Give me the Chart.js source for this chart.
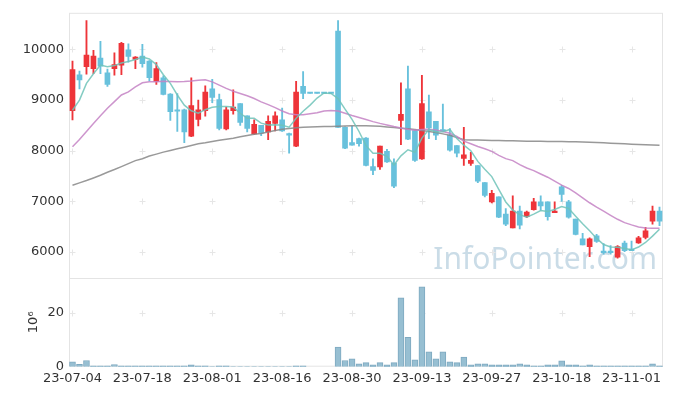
<!DOCTYPE html>
<html>
<head>
<meta charset="utf-8">
<script src="https://cdn.jsdelivr.net/npm/chart.js@4.4.0/dist/chart.umd.min.js"></script>
<style>
  html, body { margin: 0; padding: 0; background: #fff; }
  canvas { display: block; }
</style>
</head>
<body>
<canvas id="chart" width="673" height="396"></canvas>
<script>
// trading days (YY-MM-DD)
const dates = [
  '23-07-04', '23-07-05', '23-07-06', '23-07-07', '23-07-10', '23-07-11', '23-07-12', '23-07-13', '23-07-14', '23-07-17',
  '23-07-18', '23-07-19', '23-07-20', '23-07-21', '23-07-24', '23-07-25', '23-07-26', '23-07-27', '23-07-28', '23-07-31',
  '23-08-01', '23-08-02', '23-08-03', '23-08-04', '23-08-07', '23-08-08', '23-08-09', '23-08-10', '23-08-11', '23-08-14',
  '23-08-16', '23-08-17', '23-08-18', '23-08-21', '23-08-22', '23-08-23', '23-08-24', '23-08-25', '23-08-28', '23-08-29',
  '23-08-30', '23-08-31', '23-09-01', '23-09-04', '23-09-05', '23-09-06', '23-09-07', '23-09-08', '23-09-11', '23-09-12',
  '23-09-13', '23-09-14', '23-09-15', '23-09-18', '23-09-19', '23-09-20', '23-09-21', '23-09-22', '23-09-25', '23-09-26',
  '23-09-27', '23-10-04', '23-10-05', '23-10-06', '23-10-10', '23-10-11', '23-10-12', '23-10-13', '23-10-16', '23-10-17',
  '23-10-18', '23-10-19', '23-10-20', '23-10-23', '23-10-24', '23-10-25', '23-10-26', '23-10-27', '23-10-30', '23-10-31',
  '23-11-01', '23-11-02', '23-11-03', '23-11-06', '23-11-07'
];

const opens = [
  8790, 9500, 9660, 9620, 9830, 9540, 9620, 9690, 9990, 9800,
  9870, 9770, 9370, 9440, 9120, 8790, 8810, 8290, 8620, 8790,
  9220, 9010, 8430, 8790, 8930, 8690, 8330, 8500, 8370, 8540,
  8610, 8340, 8090, 9270, 9130, 9130, 9130, 9130, 10360, 8460,
  8160, 8240, 8250, 7690, 7680, 7990, 7750, 8600, 9220, 8400,
  7840, 8770, 8580, 8400, 8310, 8100, 7850, 7750, 7710, 7370,
  6990, 7090, 6750, 6480, 6810, 6700, 6840, 6990, 6990, 6780,
  7290, 6990, 6650, 6260, 6110, 6320, 6010, 6010, 5900, 6180,
  6050, 6180, 6290, 6610, 6810
];
const highs = [
  9770, 9570, 10570, 9980, 10160, 9610, 9930, 10140, 10110, 9860,
  10100, 9780, 9740, 9480, 9130, 9130, 8820, 9440, 9000, 9280,
  9410, 9120, 8860, 9200, 8930, 8690, 8610, 8500, 8690, 8770,
  8840, 8350, 9370, 9560, 9130, 9130, 9130, 9130, 10570, 8470,
  8480, 8250, 8260, 7840, 8090, 8030, 7840, 9340, 9670, 8400,
  9490, 9100, 8580, 8920, 8440, 8100, 8460, 7970, 7710, 7370,
  7220, 7090, 6860, 7110, 6910, 6810, 7060, 7110, 6990, 6990,
  7320, 7020, 6650, 6370, 6280, 6350, 6170, 6130, 6130, 6220,
  6220, 6310, 6490, 6910, 6890
];
const lows = [
  8610, 9220, 9510, 9520, 9520, 9270, 9490, 9500, 9750, 9620,
  9650, 9380, 9310, 9100, 8600, 8380, 8160, 8280, 8490, 8680,
  8950, 8410, 8410, 8720, 8500, 8370, 8320, 8300, 8220, 8390,
  8380, 7950, 8080, 9030, 9130, 9130, 9130, 9130, 8460, 8040,
  8110, 8090, 7700, 7530, 7630, 7770, 7270, 8120, 8220, 7790,
  7830, 8240, 8220, 8380, 7990, 7880, 7710, 7710, 7370, 7090,
  6970, 6680, 6520, 6480, 6460, 6680, 6830, 6830, 6630, 6780,
  7000, 6670, 6340, 6140, 5910, 6190, 5960, 5960, 5880, 6010,
  6030, 6170, 6260, 6550, 6520
];
const closes = [
  9600, 9400, 9890, 9870, 9670, 9310, 9700, 10120, 9860, 9850,
  9720, 9440, 9620, 9110, 8770, 8780, 8370, 8890, 8810, 9160,
  9050, 8440, 8810, 8860, 8560, 8440, 8520, 8350, 8580, 8690,
  8390, 8310, 9160, 9130, 9130, 9130, 9130, 9130, 8460, 8050,
  8110, 8140, 7710, 7610, 8090, 7780, 7300, 8720, 8230, 7810,
  8930, 8450, 8310, 8390, 8010, 7950, 7920, 7810, 7400, 7120,
  7160, 6690, 6550, 6810, 6530, 6790, 6990, 6910, 6700, 6800,
  7140, 6690, 6350, 6140, 6260, 6210, 5990, 5990, 6110, 6030,
  6030, 6280, 6420, 6810, 6610
];

// volume, millions of shares
const volumes = [
  1.8, 0.9, 2.3, 0.3, 0.3, 0.3, 0.8, 0.3, 0.3, 0.3,
  0.3, 0.3, 0.3, 0.3, 0.3, 0.3, 0.3, 0.7, 0.3, 0.3,
  0.05, 0.3, 0.3, 0.05, 0.05, 0.05, 0.05, 0.05, 0.05, 0.05,
  0.05, 0.05, 0.3, 0.3, 0, 0, 0, 0, 7.3, 2.3,
  2.9, 1.1, 1.5, 0.7, 1.5, 0.7, 1.5, 25.5, 10.9, 2.5,
  29.6, 5.5, 2.9, 5.5, 1.8, 1.5, 3.6, 0.7, 1.1, 1.1,
  0.7, 0.7, 0.7, 0.7, 1.1, 0.7, 0.3, 0.3, 0.7, 0.7,
  2.2, 0.7, 0.7, 0.3, 0.7, 0.3, 0.3, 0.3, 0.3, 0.3,
  0.3, 0.3, 0.3, 1.1, 0.3
];

// moving averages
const ma5 = [
  8800, 9000, 9330, 9520, 9690, 9660, 9680, 9730, 9760, 9800,
  9850, 9810, 9700, 9500, 9330, 9100, 8900, 8790, 8740, 8810,
  8860, 8875, 8875, 8865, 8740, 8640, 8640, 8545, 8510, 8515,
  8505, 8465, 8640, 8780, 8900, 9040, 9140, 9130, 9030, 8820,
  8620, 8380, 8100, 7950, 7950, 7890, 7720, 7900, 8020, 7970,
  8250, 8420, 8370, 8375, 8420, 8240, 8110, 8000, 7790, 7635,
  7490, 7236, 6990, 6830, 6740, 6690, 6750, 6820, 6800, 6840,
  6900, 6860, 6710, 6560, 6420, 6270, 6150, 6100, 6095, 6070,
  6045, 6100, 6190, 6315, 6450
];
const ma20 = [
  8080, 8220, 8380, 8540, 8690, 8840, 8970, 9100, 9160, 9260,
  9340, 9360, 9360, 9370, 9365, 9360, 9365, 9375, 9390, 9400,
  9360, 9295, 9230, 9175, 9130, 9085, 9030, 8965, 8910, 8850,
  8785, 8730, 8710, 8710, 8730, 8750, 8785, 8795, 8785, 8740,
  8695, 8655, 8615, 8575, 8540, 8510, 8477, 8450, 8425, 8405,
  8418, 8424, 8412, 8380, 8346, 8281, 8190, 8138, 8085, 8040,
  7987, 7909, 7844, 7805, 7726, 7660, 7609, 7542, 7478, 7399,
  7321, 7256, 7170, 7072, 6974, 6889, 6810, 6727, 6648, 6582,
  6537, 6497, 6478, 6471, 6471
];
const ma60 = [
  7321, 7366, 7413, 7464, 7517, 7576, 7629, 7687, 7746, 7805,
  7844, 7895, 7934, 7973, 8007, 8040, 8071, 8105, 8138, 8157,
  8183, 8209, 8228, 8248, 8275, 8301, 8326, 8340, 8370, 8400,
  8425, 8440, 8455, 8464, 8470, 8475, 8478, 8480, 8485, 8490,
  8492, 8494, 8495, 8490, 8484, 8471, 8457, 8444, 8432, 8418,
  8399, 8379, 8360, 8333, 8307, 8261, 8216, 8212, 8210, 8206,
  8203, 8200, 8198, 8195, 8192, 8190, 8188, 8187, 8185, 8184,
  8183, 8180, 8176, 8172, 8167, 8163, 8157, 8150, 8143, 8136,
  8130, 8125, 8120, 8115, 8111
];

const priceTicks = [6000, 7000, 8000, 9000, 10000];
const volumeTicks = [0, 20];

const UP = '#ee3439';
const DOWN = '#68c1dc';
const TEXT = '#333';

Chart.defaults.font.family = '"DejaVu Sans", sans-serif';
Chart.defaults.font.size = 13;
Chart.defaults.color = TEXT;

const candleColors = closes.map((c, i) => c > opens[i] ? UP : DOWN);

// light frame, panel divider, "+" tick marks and the watermark
const panelDecor = {
  id: 'panelDecor',
  beforeDatasetsDraw(chart) {
    const { ctx, chartArea: a, scales: { x, y, yv } } = chart;
    ctx.save();
    ctx.font = '30px "Noto Sans"';
    ctx.fillStyle = 'rgba(150, 185, 208, 0.5)';
    ctx.textAlign = 'right';
    ctx.textBaseline = 'alphabetic';
    ctx.fillText('InfoPointer.com', a.right - 6, yv.top - 9);

    ctx.strokeStyle = '#e4e4e4';
    ctx.lineWidth = 1;
    ctx.strokeRect(a.left + 0.5, a.top + 0.5, a.width - 1, a.height - 1);
    ctx.beginPath();
    ctx.moveTo(a.left, Math.round(yv.top) + 0.5);
    ctx.lineTo(a.right, Math.round(yv.top) + 0.5);
    ctx.stroke();

    ctx.strokeStyle = '#e6e6e6';
    const xs = dates.map((d, i) => i).filter(i => i % 10 === 0).map(i => x.getPixelForValue(i));
    const ys = priceTicks.map(v => y.getPixelForValue(v))
      .concat(volumeTicks.filter(v => v > 0).map(v => yv.getPixelForValue(v)));
    ctx.beginPath();
    xs.forEach(px => ys.forEach(py => {
      const cx = Math.round(px) + 0.5, cy = Math.round(py) + 0.5;
      ctx.moveTo(cx - 3, cy); ctx.lineTo(cx + 3, cy);
      ctx.moveTo(cx, cy - 3); ctx.lineTo(cx, cy + 3);
    }));
    ctx.stroke();
    ctx.restore();
  }
};

const maLine = (data, color) => ({
  type: 'line',
  data,
  yAxisID: 'y',
  borderColor: color,
  borderWidth: 1.5,
  pointRadius: 0,
  tension: 0
});

new Chart(document.getElementById('chart'), {
  type: 'bar',
  data: {
    labels: dates,
    datasets: [
      maLine(ma5, 'rgba(110, 195, 185, 0.85)'),
      maLine(ma20, 'rgba(196, 130, 196, 0.85)'),
      maLine(ma60, 'rgba(135, 135, 135, 0.85)'),
      {
        // candle bodies
        data: dates.map((d, i) => [opens[i], closes[i]]),
        yAxisID: 'y',
        backgroundColor: candleColors,
        borderWidth: 0,
        barThickness: 5,
        minBarLength: 1.5,
        grouped: false
      },
      {
        // wicks
        data: dates.map((d, i) => [lows[i], highs[i]]),
        yAxisID: 'y',
        backgroundColor: candleColors,
        borderWidth: 0,
        barThickness: 1.2,
        grouped: false
      },
      {
        data: volumes,
        yAxisID: 'yv',
        backgroundColor: '#97bfd2',
        borderColor: '#7ea9c0',
        borderWidth: 1,
        barThickness: 6,
        grouped: false
      }
    ]
  },
  options: {
    responsive: false,
    animation: false,
    devicePixelRatio: 1,
    layout: { padding: { top: 10.5, right: 10, left: 0, bottom: 0 } },
    plugins: { legend: { display: false }, tooltip: { enabled: false } },
    scales: {
      x: {
        type: 'category',
        offset: true,
        grid: { display: false, drawTicks: false },
        border: { display: false },
        ticks: {
          autoSkip: false,
          maxRotation: 0,
          padding: 4,
          callback: (v, i) => i % 10 === 0 ? dates[i] : ''
        },
        afterFit: s => { s.height = 29.3; }
      },
      yv: {
        type: 'linear',
        position: 'left',
        stack: 'panels',
        stackWeight: 1,
        min: 0,
        max: 32.9,
        grid: { display: false, drawTicks: false },
        border: { display: false },
        ticks: { padding: 5, callback: v => String(v) },
        afterBuildTicks: s => { s.ticks = volumeTicks.map(v => ({ value: v })); },
        afterFit: s => { s.width = 69; },
        title: { display: true, text: '10⁶', color: TEXT, padding: { top: 26, bottom: 0 } }
      },
      y: {
        type: 'linear',
        position: 'left',
        stack: 'panels',
        stackWeight: 2.984,
        min: 5492,
        max: 10722,
        grid: { display: false, drawTicks: false },
        border: { display: false },
        ticks: { padding: 5, callback: v => String(v) },
        afterBuildTicks: s => { s.ticks = priceTicks.map(v => ({ value: v })); },
        afterFit: s => { s.width = 69; }
      }
    }
  },
  plugins: [panelDecor]
});
</script>
</body>
</html>
